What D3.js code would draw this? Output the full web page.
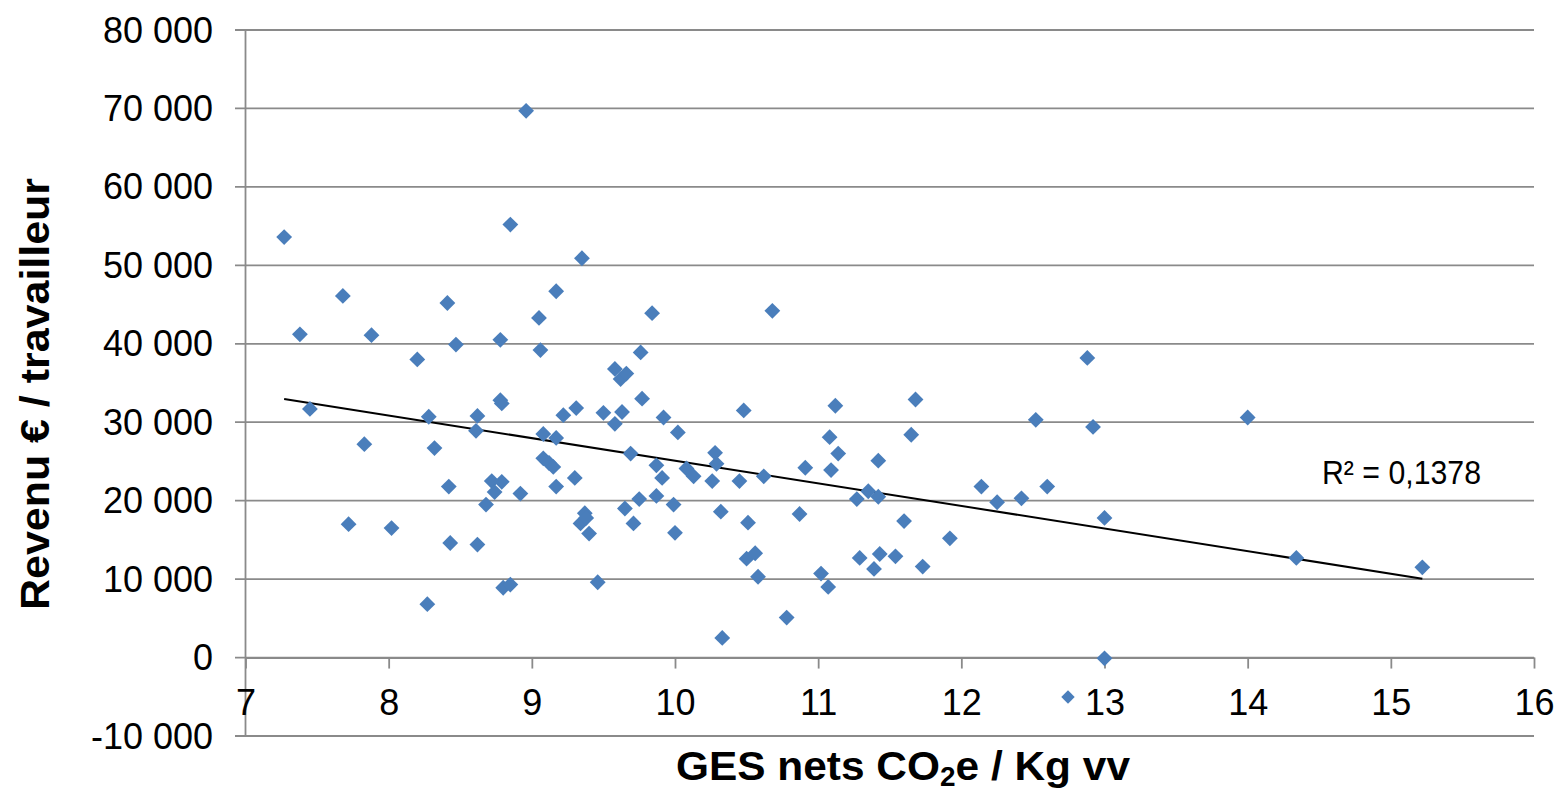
<!DOCTYPE html>
<html><head><meta charset="utf-8">
<script src="https://cdn.jsdelivr.net/npm/d3@7"></script>
<style>body{margin:0;background:#fff;} svg{display:block;}</style>
</head><body>
<svg id="chart" width="1555" height="791"></svg>
<script>
// ---- data ----
const xValues = [7.27,7.38,7.45,7.68,7.72,7.83,7.88,8.02,8.20,8.27,8.28,8.32,8.41,8.42,8.43,8.47,8.61,8.62,8.62,8.68,
  8.72,8.74,8.78,8.79,8.78,8.79,8.80,8.85,8.85,8.92,8.96,9.05,9.06,9.08,9.08,9.12,9.15,9.17,9.17,9.17,
  9.22,9.30,9.31,9.34,9.35,9.37,9.38,9.40,9.46,9.50,9.58,9.58,9.62,9.63,9.65,9.66,9.69,9.71,9.75,9.76,
  9.77,9.84,9.87,9.87,9.91,9.92,9.99,10.00,10.02,10.08,10.13,10.26,10.28,10.29,10.32,10.33,10.45,10.48,10.50,10.51,
  10.56,10.58,10.62,10.68,10.78,10.87,10.91,11.02,11.07,11.08,11.09,11.12,11.14,11.27,11.29,11.35,11.39,11.42,11.42,11.43,
  11.54,11.60,11.65,11.68,11.73,11.92,12.14,12.25,12.42,12.52,12.60,12.88,12.92,13.00,13.00,14.00,14.34,15.22];
const yValues = [53600,41200,31700,46100,17000,27200,41100,16500,38000,6800,30700,26700,45200,21800,14600,39900,28900,30800,14400,19500,
  22500,21100,32800,32400,40500,22400,8900,9300,55200,20900,69700,43300,39200,28500,25400,24800,24300,28000,21800,46700,
  30900,22900,31800,17100,50900,18400,17800,15800,9600,31200,29800,36800,35500,31300,19000,36200,26000,17100,20200,38900,
  33000,43900,24500,20600,22900,30600,19500,15900,28700,24100,23100,22500,26100,24700,18600,2500,22500,31500,12600,17200,
  13300,10300,23100,44200,5100,18300,24200,10700,9000,28100,23900,32100,26000,20200,12700,21200,11300,20500,25100,13200,
  12900,17400,28400,32900,11600,15200,21800,19800,20300,30300,21800,38200,29400,17800,-100,30600,12700,11500];
const xTicks = [7,8,9,10,11,12,13,14,15,16];
const yTicks = [-10000,0,10000,20000,30000,40000,50000,60000,70000,80000];
const trendSlope = -2880;      // linear trendline as drawn in the reference
const trendIntercept = 53890;
const r2Label = "R² = 0,1378";
const xTitleMain = "GES nets CO", xTitleSub = "2", xTitleEnd = "e / Kg vv";
const yTitle = "Revenu € / travailleur";

// ---- chart ----
const svg = d3.select('#chart');
const x = d3.scaleLinear().domain([7,16]).range([245.5,1534]);
const y = d3.scaleLinear().domain([-10000,80000]).range([736,30]);
const gridColor = '#8a8a8a';
const fmt = v => d3.format(',')(v).replace(/,/g,' ').replace('\u2212', '-');
const font = '"Liberation Sans", Arial, sans-serif';

// horizontal gridlines (extend left as tick marks)
svg.append('g').selectAll('line').data(yTicks).join('line')
  .attr('x1',235).attr('x2',x(16))
  .attr('y1',d=>y(d)).attr('y2',d=>y(d))
  .attr('stroke',gridColor).attr('stroke-width',1.8);

// vertical axis
svg.append('line').attr('x1',x(7)).attr('x2',x(7)).attr('y1',y(80000)).attr('y2',y(-10000))
  .attr('stroke',gridColor).attr('stroke-width',1.8);

// y tick labels
svg.append('g').selectAll('text').data(yTicks).join('text')
  .attr('x',213).attr('y',d=>y(d)).attr('dy','0.35em')
  .attr('text-anchor','end')
  .style('font-family',font).style('font-size','36px').attr('fill','#000')
  .text(d=>fmt(d));

// x axis at y = 0 with ticks
const xAxis = svg.append('g').attr('transform',`translate(0,${y(0)})`)
  .call(d3.axisBottom(x).tickValues(xTicks).tickSizeInner(11).tickSizeOuter(0).tickFormat(d3.format('d')));
xAxis.select('.domain').attr('stroke',gridColor).attr('stroke-width',1.8);
xAxis.selectAll('.tick line').attr('stroke',gridColor).attr('stroke-width',1.8);
xAxis.selectAll('.tick text').attr('y',31.5).attr('dy','0.71em')
  .style('font-family',font).style('font-size','36px').attr('fill','#000');

// trendline
const xmin = d3.min(xValues), xmax = d3.max(xValues);
svg.append('line')
  .attr('x1',x(xmin)).attr('y1',y(trendSlope*xmin+trendIntercept))
  .attr('x2',x(xmax)).attr('y2',y(trendSlope*xmax+trendIntercept))
  .attr('stroke','#000').attr('stroke-width',2);

// points
const pts = xValues.map((v,i)=>({x:v,y:yValues[i]}));
const diamond = d3.symbol(d3.symbolSquare, 125);
svg.append('g').selectAll('path').data(pts).join('path')
  .attr('d',diamond)
  .attr('transform',d=>`translate(${x(d.x)},${y(d.y)}) rotate(45)`)
  .attr('fill','#4a7ebb');

// legend marker (label not shown in the reference)
svg.append('path').attr('d',d3.symbol(d3.symbolSquare, 90))
  .attr('transform','translate(1068,697) rotate(45)').attr('fill','#4a7ebb');

// R² label
svg.append('text').attr('x',1322).attr('y',484)
  .attr('textLength',159).attr('lengthAdjust','spacingAndGlyphs')
  .style('font-family',font).style('font-size','34px').attr('fill','#000')
  .text(r2Label);

// axis titles
const xt = svg.append('text').attr('x',903).attr('y',780).attr('text-anchor','middle')
  .attr('textLength',454).attr('lengthAdjust','spacingAndGlyphs')
  .style('font-family',font).style('font-size','41px').style('font-weight','bold');
xt.append('tspan').text(xTitleMain);
xt.append('tspan').attr('dy',6).style('font-size','27px').text(xTitleSub);
xt.append('tspan').attr('dy',-6).text(xTitleEnd);

svg.append('text').attr('transform','translate(49,394) rotate(-90)').attr('text-anchor','middle')
  .attr('textLength',432).attr('lengthAdjust','spacingAndGlyphs')
  .style('font-family',font).style('font-size','41px').style('font-weight','bold')
  .text(yTitle);
</script>
</body></html>
